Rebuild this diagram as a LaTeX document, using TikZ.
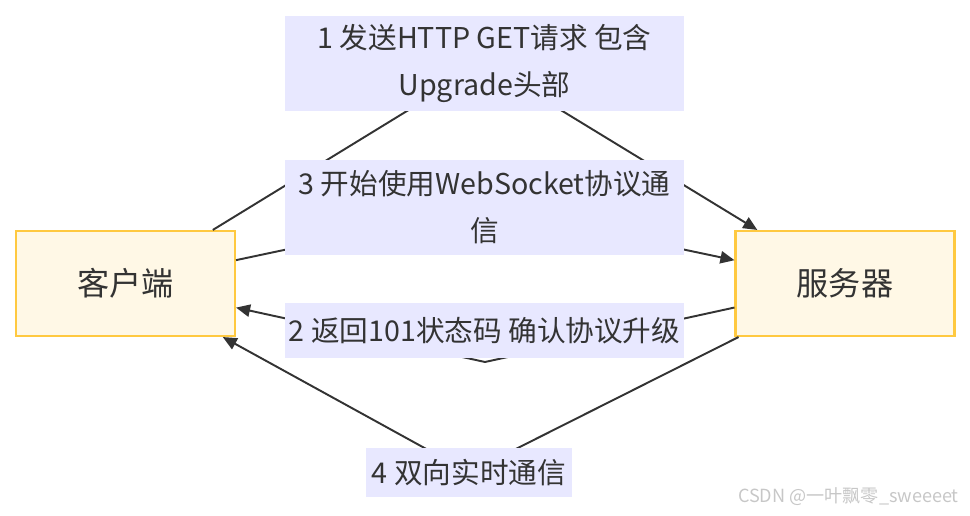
\documentclass[tikz,border=0pt]{standalone}
\usepackage{fontspec}
\setmainfont{Noto Sans CJK SC}
\usetikzlibrary{arrows.meta,positioning}
\definecolor{peerfill}{HTML}{FFF8E6}
\definecolor{peerdraw}{HTML}{FFC940}
\definecolor{msgfill}{HTML}{E8E8FF}
\definecolor{inkgray}{HTML}{333333}

\begin{document}
\begin{tikzpicture}[
    x=0.02cm, y=-0.02cm,
    peer/.style={rectangle, draw=peerdraw, line width=1.2pt, fill=peerfill,
                 text=inkgray, minimum width=4.38cm, minimum height=2.1cm,
                 font=\fontsize{18.3}{21}\selectfont},
    msg/.style={rectangle, fill=msgfill, text=inkgray, inner sep=0pt,
                align=center, font=\fontsize{16.3}{26.8}\selectfont},
    flow/.style={draw=inkgray, line width=1.1pt,
                 -{Triangle[length=8pt,width=7pt]}}
]
\useasboundingbox (0,0) rectangle (970,516);

% Endpoints
\node[peer] (client) at (125.5,283.5) {客户端};
\node[peer] (server) at (845,283.5) {服务器};

% Label positions
\coordinate (m1) at (484.5,63.5);
\coordinate (m2) at (484.5,330.5);
\coordinate (m3) at (484.5,207.5);
\coordinate (m4) at (469,472.5);
\coordinate (dip2) at (485,362);

% Messages
\draw[flow] (client) -- (m1) -- (server);
\draw[flow] (server) -- (dip2) -- (client);
\draw[flow] (client) -- (m3) -- (server);
\draw[flow] (server) -- (m4) -- (client);

% Labels on top
\node[msg, minimum width=7.98cm, minimum height=1.9cm] (lbl1) at (m1) {1 发送HTTP GET请求 包含\\Upgrade头部};
\node[msg, minimum width=7.98cm, minimum height=1.1cm] (lbl2) at (m2) {2 返回101状态码 确认协议升级};
\node[msg, minimum width=7.98cm, minimum height=1.9cm] (lbl3) at (m3) {3 开始使用WebSocket协议通\\信};
\node[msg, minimum width=4.12cm, minimum height=1.0cm] (lbl4) at (m4) {4 双向实时通信};

% Watermark
\node[text=black!22, anchor=east, font=\fontsize{10.3}{12}\selectfont] (mark) at (965,497) {CSDN @一叶飘零\_sweeeet};

\end{tikzpicture}
\end{document}
